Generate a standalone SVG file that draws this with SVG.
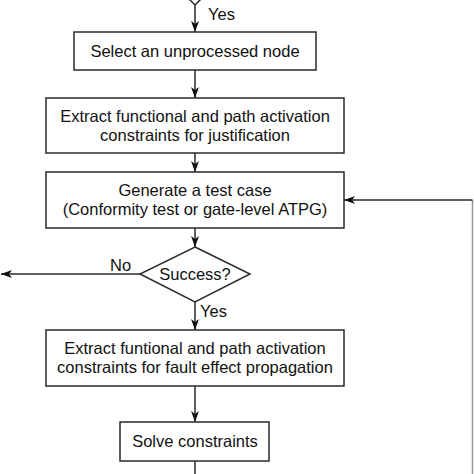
<svg xmlns="http://www.w3.org/2000/svg" width="474" height="474" viewBox="0 0 474 474">
<defs>
<style>
.box{fill:#fff;stroke:#2a2a2a;stroke-width:1.5}
.ln{fill:none;stroke:#2a2a2a;stroke-width:1.5}
.lt{fill:none;stroke:#999;stroke-width:1.5}
.t{font-family:"Liberation Sans",Arial,sans-serif;font-size:16.5px;fill:#111;text-anchor:middle}
.l{font-family:"Liberation Sans",Arial,sans-serif;font-size:16.5px;fill:#111}
</style>
<marker id="ah" markerWidth="12" markerHeight="8" refX="11" refY="4" orient="auto" markerUnits="userSpaceOnUse">
<path d="M0,0 L11,4 L0,8 L3,4 Z" fill="#111"/>
</marker>
</defs>
<rect width="474" height="474" fill="#fff"/>
<g id="connectors">
<line class="ln" x1="195" y1="5" x2="195" y2="32" marker-end="url(#ah)"/>
<line class="ln" x1="195" y1="70" x2="195" y2="98" marker-end="url(#ah)"/>
<line class="ln" x1="195" y1="153" x2="195" y2="172" marker-end="url(#ah)"/>
<line class="ln" x1="195" y1="228" x2="195" y2="247" marker-end="url(#ah)"/>
<line class="ln" x1="140" y1="274" x2="1" y2="274" marker-end="url(#ah)"/>
<line class="ln" x1="195" y1="302" x2="195" y2="330" marker-end="url(#ah)"/>
<line class="ln" x1="195" y1="386" x2="195" y2="422" marker-end="url(#ah)"/>
<line class="ln" x1="195" y1="461" x2="195" y2="474"/>
<line class="lt" x1="472.5" y1="474" x2="472.5" y2="200"/>
<line class="ln" x1="472.5" y1="200" x2="344" y2="200" stroke="#555" marker-end="url(#ah)"/>
<text class="l" x="208" y="20">Yes</text>
<text class="l" x="110" y="271">No</text>
<text class="l" x="200" y="317">Yes</text>
</g>
<g id="top-decision">
<polygon class="box" points="182,-8 195,5 208,-8"/>
</g>
<g id="select">
<rect class="box" x="74" y="32" width="242" height="38"/>
<text class="t" x="195" y="57">Select an unprocessed node</text>
</g>
<g id="extract-justification">
<rect class="box" x="46" y="98" width="298" height="55"/>
<text class="t" x="195" y="122">Extract functional and path activation</text>
<text class="t" x="195" y="141">constraints for justification</text>
</g>
<g id="generate">
<rect class="box" x="46" y="172" width="298" height="56"/>
<text class="t" x="195" y="196">Generate a test case</text>
<text class="t" x="195" y="215">(Conformity test or gate-level ATPG)</text>
</g>
<g id="success">
<polygon class="box" points="195,247 250,274 195,302 140,274"/>
<text class="t" x="195" y="280">Success?</text>
</g>
<g id="extract-propagation">
<rect class="box" x="46" y="330" width="298" height="56"/>
<text class="t" x="195" y="354">Extract funtional and path activation</text>
<text class="t" x="195" y="373">constraints for fault effect propagation</text>
</g>
<g id="solve">
<rect class="box" x="120" y="422" width="149" height="39"/>
<text class="t" x="195" y="447">Solve constraints</text>
</g>
</svg>
